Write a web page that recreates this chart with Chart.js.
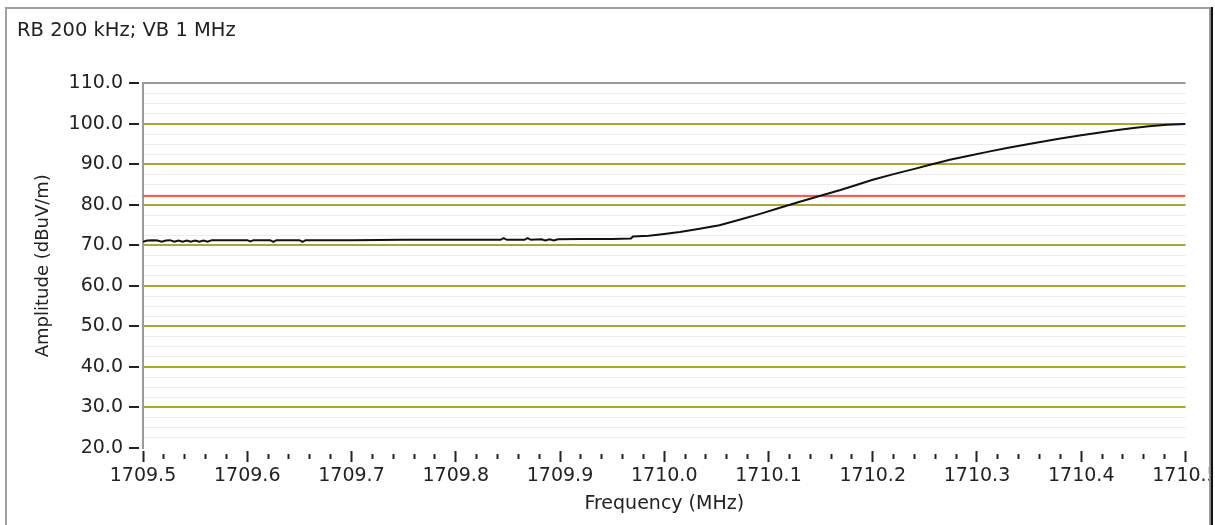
<!DOCTYPE html>
<html>
<head>
<meta charset="utf-8">
<script src="https://cdn.jsdelivr.net/npm/chart.js@4.4.1/dist/chart.umd.min.js"></script>
<style>
  html, body { margin: 0; padding: 0; background: #fff; }
  canvas { display: block; }
</style>
</head>
<body>
<canvas id="spectrum" width="1215" height="525"></canvas>
<script>
// trace (MHz / dBuV/m)
const freqs = [
  1709.500, 1709.504, 1709.510, 1709.514, 1709.518, 1709.522, 1709.526, 1709.530,
  1709.534, 1709.538, 1709.542, 1709.546, 1709.550, 1709.554, 1709.558, 1709.562,
  1709.566, 1709.600, 1709.603, 1709.606, 1709.622, 1709.625, 1709.628, 1709.650,
  1709.653, 1709.656, 1709.700, 1709.750, 1709.800, 1709.843, 1709.846, 1709.849,
  1709.866, 1709.869, 1709.872, 1709.882, 1709.886, 1709.890, 1709.894, 1709.898,
  1709.920, 1709.950, 1709.968, 1709.970, 1709.985, 1709.996, 1710.015, 1710.034,
  1710.053, 1710.073, 1710.092, 1710.111, 1710.130, 1710.149, 1710.169, 1710.185,
  1710.200, 1710.220, 1710.240, 1710.255, 1710.275, 1710.290, 1710.310, 1710.330,
  1710.354, 1710.380, 1710.400, 1710.418, 1710.435, 1710.450, 1710.465, 1710.482,
  1710.500
];
const amps = [
  70.9, 71.2, 71.3, 71.2, 70.9, 71.2, 71.3, 70.9,
  71.2, 70.9, 71.2, 70.9, 71.2, 70.9, 71.2, 70.9,
  71.3, 71.3, 71.0, 71.3, 71.3, 70.9, 71.3, 71.3,
  70.9, 71.3, 71.3, 71.4, 71.4, 71.4, 71.8, 71.4,
  71.4, 71.8, 71.4, 71.5, 71.2, 71.5, 71.2, 71.5,
  71.6, 71.6, 71.7, 72.2, 72.4, 72.7, 73.3, 74.1,
  75.0, 76.4, 77.8, 79.3, 80.8, 82.2, 83.7, 85.0,
  86.2, 87.6, 88.9, 89.9, 91.2, 92.0, 93.1, 94.1,
  95.2, 96.4, 97.2, 97.9, 98.5, 99.0, 99.4, 99.8,
  100.0
];
// limit line
const limitFreqs = [1709.5, 1710.5];
const limitAmps = [82.2, 82.2];

const xMin = 1709.5, xMax = 1710.5, xStep = 0.02;
const yMin = 20, yMax = 110, yStep = 2.5;

const FONT = "'DejaVu Sans', sans-serif";
const OLIVE = '#a8a830';

const xMajor = v => Math.round(v * 100) % 10 === 0;
const yMajor = v => Math.abs(v / 10 - Math.round(v / 10)) < 1e-6;

const framePlugin = {
  id: 'frame',
  afterDraw(chart) {
    const c = chart.ctx;
    c.save();
    c.fillStyle = '#fff';
    c.fillRect(1210, 0, 5, 525);
    c.fillStyle = '#a0a0a0';
    c.fillRect(5, 7, 1205, 2);
    c.fillRect(5, 7, 2, 518);
    c.fillRect(1209, 7, 1, 518);
    c.fillStyle = '#111';
    c.fillRect(1210.5, 7, 2.5, 518);
    c.restore();
  }
};

const ctx = document.getElementById('spectrum').getContext('2d');
const spectrum_chart = new Chart(ctx, {
  type: 'line',
  data: {
    datasets: [
      {
        label: 'Trace',
        data: freqs.map((f, i) => ({ x: f, y: amps[i] })),
        borderColor: '#111',
        borderWidth: 2,
        pointRadius: 0,
        tension: 0,
        fill: false
      },
      {
        label: 'Limit',
        data: limitFreqs.map((f, i) => ({ x: f, y: limitAmps[i] })),
        borderColor: '#ff5a44',
        borderWidth: 2,
        pointRadius: 0,
        fill: false
      }
    ]
  },
  options: {
    responsive: false,
    animation: false,
    layout: { padding: { left: 17, top: 0, right: 0, bottom: 0 } },
    scales: {
      x: {
        type: 'linear',
        min: xMin,
        max: xMax,
        afterFit(scale) {
          scale.height = 77;
          scale.paddingRight = 29.5;
        },
        border: { display: false },
        grid: {
          drawOnChartArea: false,
          drawTicks: true,
          tickLength: 14,
          tickWidth: 2,
          tickColor: '#222',
          tickBorderDash: c => (c.tick && xMajor(c.tick.value)) ? [0, 3, 11, 100] : [0, 6, 5, 100]
        },
        ticks: {
          stepSize: xStep,
          autoSkip: false,
          maxRotation: 0,
          padding: 3,
          color: '#222',
          font: { family: FONT, size: 19 },
          callback: v => xMajor(v) ? v.toFixed(1) : ''
        },
        title: {
          display: true,
          text: 'Frequency (MHz)',
          color: '#222',
          font: { family: FONT, size: 19 },
          padding: { top: 0, bottom: 10 }
        }
      },
      y: {
        min: yMin,
        max: yMax,
        afterFit(scale) {
          scale.width = 126;
        },
        border: { display: true, color: '#9a9a9a', width: 2 },
        grid: {
          color: c => {
            if (!c.tick) return '#ececec';
            const v = c.tick.value;
            if (v === yMax) return '#9a9a9a';
            if (v === yMin) return 'rgba(0,0,0,0)';
            return yMajor(v) ? OLIVE : '#ececec';
          },
          lineWidth: c => (c.tick && yMajor(c.tick.value)) ? 2 : 1,
          tickLength: 14,
          tickWidth: 2,
          tickColor: c => (c.tick && yMajor(c.tick.value)) ? '#222' : 'rgba(0,0,0,0)',
          tickBorderDash: [10, 100]
        },
        ticks: {
          stepSize: yStep,
          autoSkip: false,
          padding: 6,
          color: '#222',
          font: { family: FONT, size: 19 },
          callback: v => yMajor(v) ? v.toFixed(1) : ''
        },
        title: {
          display: true,
          text: 'Amplitude (dBuV/m)',
          color: '#222',
          font: { family: FONT, size: 18 },
          padding: { top: 16, bottom: 0 }
        }
      }
    },
    plugins: {
      legend: { display: false },
      tooltip: { enabled: false },
      title: {
        display: true,
        text: 'RB 200 kHz; VB 1 MHz',
        align: 'start',
        color: '#222',
        font: { family: FONT, size: 19.5, weight: 'normal' },
        padding: { top: 19, bottom: 41 }
      }
    }
  },
  plugins: [framePlugin]
});
</script>
</body>
</html>
